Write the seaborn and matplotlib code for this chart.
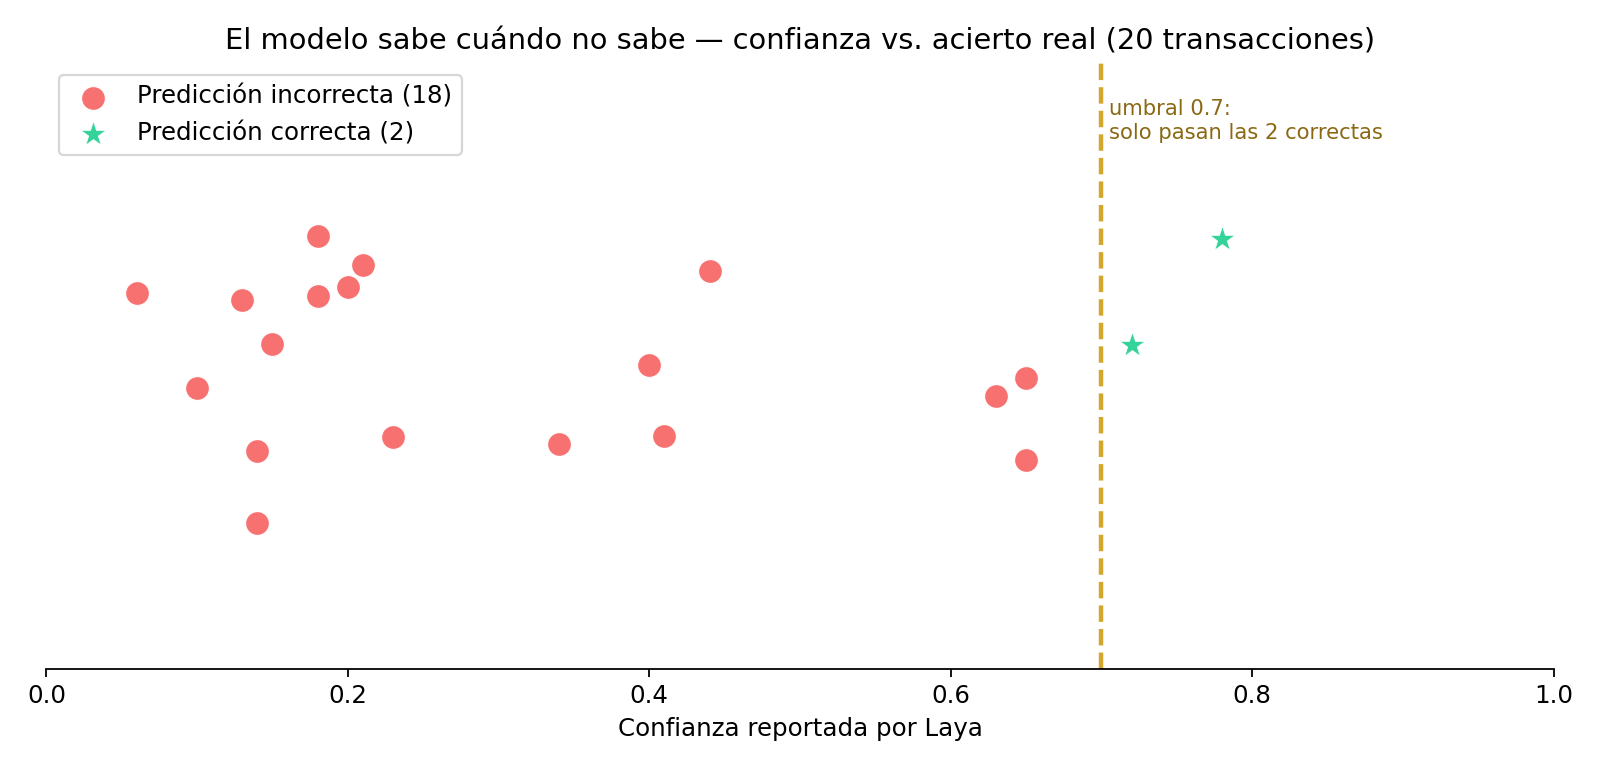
import seaborn as sns
import matplotlib.pyplot as plt
import pandas as pd

# confianza reportada y posicion vertical (jitter)
conf_incorrecta = [0.06, 0.10, 0.13, 0.14, 0.14, 0.15, 0.18, 0.18, 0.20,
                   0.21, 0.23, 0.34, 0.40, 0.41, 0.44, 0.63, 0.65, 0.65]
jitter_incorrecta = [0.620, 0.463, 0.609, 0.360, 0.241, 0.537, 0.714, 0.616, 0.631,
                     0.667, 0.382, 0.372, 0.502, 0.384, 0.657, 0.451, 0.480, 0.345]
conf_correcta = [0.72, 0.78]
jitter_correcta = [0.535, 0.710]
umbral = 0.7

df_mal = pd.DataFrame({'confianza': conf_incorrecta, 'y': jitter_incorrecta})
df_bien = pd.DataFrame({'confianza': conf_correcta, 'y': jitter_correcta})

sns.set_style('ticks', rc={'text.color': 'black', 'axes.labelcolor': 'black',
                           'xtick.color': 'black', 'axes.edgecolor': 'black',
                           'xtick.major.size': 3.5})
plt.rcParams['font.family'] = ['DejaVu Sans']

fig = plt.figure(figsize=(10, 4.8), dpi=160)
ax = fig.add_axes([0.029, 0.129, 0.942, 0.789])

sns.scatterplot(data=df_mal, x='confianza', y='y', ax=ax, s=115, color='#F87171',
                marker='o', edgecolor='white', linewidth=0.5,
                label=f'Predicción incorrecta ({len(conf_incorrecta)})')
sns.scatterplot(data=df_bien, x='confianza', y='y', ax=ax, s=140, color='#34D399',
                marker='*', edgecolor='white', linewidth=0.3,
                label=f'Predicción correcta ({len(conf_correcta)})')

ax.axvline(umbral, color='#D4A72C', linestyle='--', linewidth=2)
ax.text(umbral + 0.005, 0.94, 'umbral 0.7:\nsolo pasan las 2 correctas',
        transform=ax.get_xaxis_transform(), va='top', ha='left',
        fontsize=9.5, color='#8B6914')

ax.set_xlim(0, 1)
ax.set_ylim(0, 1)
ax.set_yticks([])
ax.set_ylabel('')
ax.set_xlabel('Confianza reportada por Laya', fontsize=11)
ax.tick_params(axis='x', labelsize=11, length=3.5)
ax.set_title('El modelo sabe cuándo no sabe — confianza vs. acierto real (20 transacciones)',
             fontsize=13)
sns.despine(ax=ax, left=True)
ax.legend(loc='upper left', fontsize=11, frameon=True)

fig.savefig('out.png', dpi=160)
